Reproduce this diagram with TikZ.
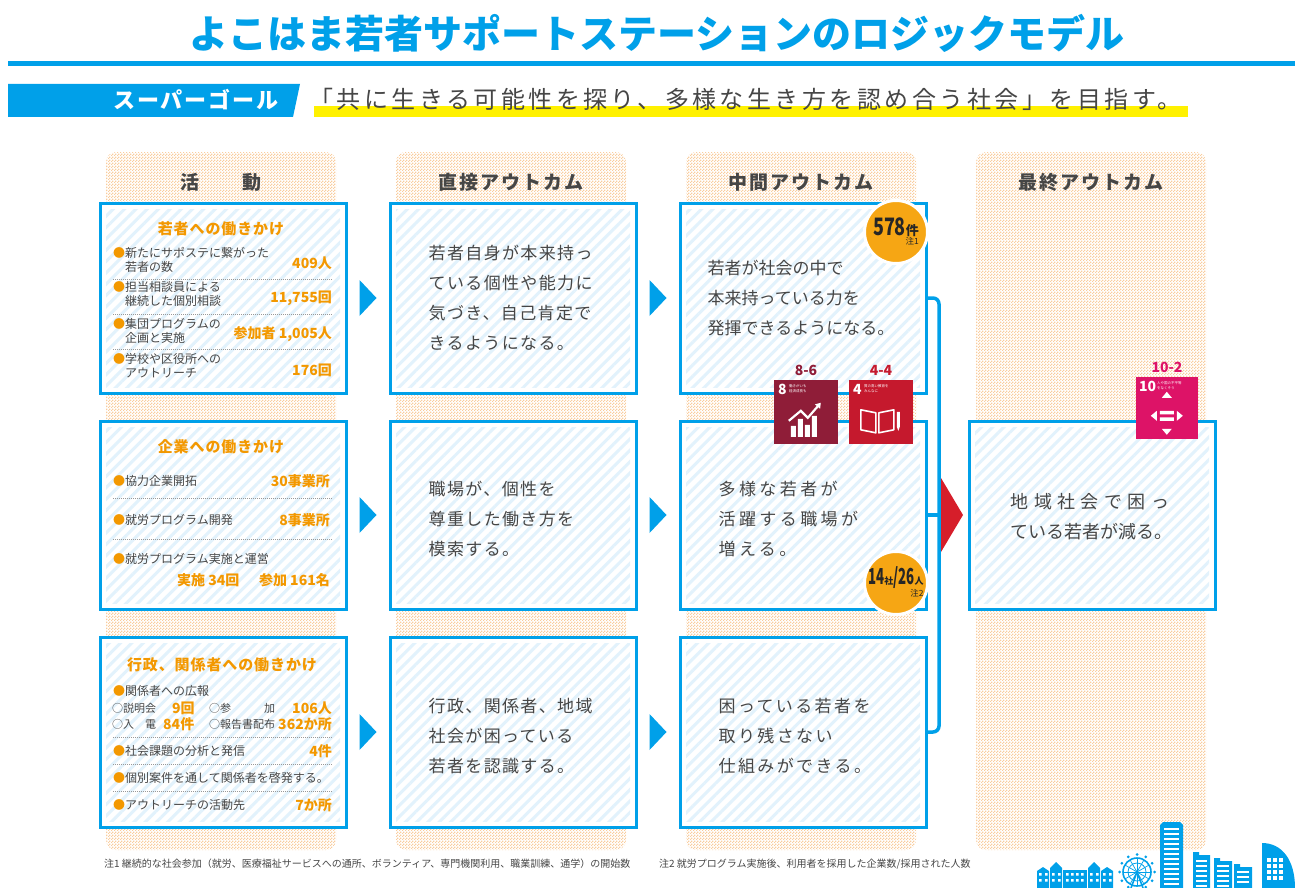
\documentclass[tikz,border=0pt]{standalone}
\usepackage{fontspec}
\setmainfont{Noto Sans CJK JP}
\usetikzlibrary{positioning, calc, arrows.meta, patterns.meta}

\definecolor{sapblue}{RGB}{0,160,233}
\definecolor{sporange}{RGB}{243,152,0}
\definecolor{badgeorange}{RGB}{246,166,20}
\definecolor{peach}{RGB}{249,205,158}
\definecolor{stripe}{RGB}{226,242,252}
\definecolor{inkgray}{RGB}{70,70,70}
\definecolor{hilite}{RGB}{255,241,0}
\definecolor{tipred}{RGB}{214,30,42}
\definecolor{sdgeight}{RGB}{143,29,56}
\definecolor{sdgfour}{RGB}{197,25,45}
\definecolor{sdgten}{RGB}{221,19,103}

\newcommand{\bul}{\textcolor{sporange}{●}}
\newcommand{\bulgap}{\phantom{●}}

% fine chequer for the column backgrounds
\tikzdeclarepattern{
  name=chequer,
  type=uncolored,
  bottom left={(0pt,0pt)},
  top right={(3pt,3pt)},
  tile size={(3pt,3pt)},
  code={
    \fill (0pt,0pt) rectangle (1.5pt,1.5pt);
    \fill (1.5pt,1.5pt) rectangle (3pt,3pt);
  }
}

\begin{document}
\begin{tikzpicture}[
    x=1pt, y=-1pt,
    column/.style={rectangle, rounded corners=10pt, pattern=chequer, pattern color=peach,
                   minimum width=230pt, minimum height=698pt, inner sep=0pt},
    colhead/.style={font=\fontsize{19}{19}\selectfont\bfseries\addfontfeature{LetterSpace=10}, text=inkgray},
    card/.style={rectangle, draw=sapblue, line width=3pt, fill=white, inner sep=0pt,
                 minimum width=246pt, minimum height=190pt,
                 path picture={\fill[pattern={Lines[angle=45, distance=8pt, line width=3pt]}, pattern color=stripe]
                   ([shift={(6pt,6pt)}]path picture bounding box.south west) rectangle
                   ([shift={(-6pt,-6pt)}]path picture bounding box.north east);}},
    cardhead/.style={font=\fontsize{15}{15}\selectfont\bfseries\addfontfeature{LetterSpace=6}, text=sporange},
    item/.style={anchor=west, align=left, inner sep=0pt, text=inkgray, font=\fontsize{12}{14}\selectfont},
    sub/.style={anchor=west, inner sep=0pt, text=inkgray, font=\fontsize{11}{11}\selectfont},
    count/.style={anchor=east, inner sep=0pt, text=sporange, font=\fontsize{14}{14}\selectfont\bfseries},
    say/.style={anchor=west, align=left, inner sep=0pt, text=inkgray,
                font=\fontsize{17}{30}\selectfont\addfontfeature{LetterSpace=#1}},
    say/.default=8,
    sep/.style={draw=gray!80, line width=0.7pt, dash pattern=on 0.7pt off 1.3pt},
    badge/.style={circle, fill=badgeorange, draw=white, line width=3pt, minimum size=63pt, inner sep=0pt},
    badgetext/.style={align=right, inner sep=0pt, text=black!85, font=\fontsize{8.5}{9}\selectfont},
    sdg/.style={rectangle, minimum width=64pt, minimum height=64pt, inner sep=0pt},
    sdgtag/.style={font=\fontsize{14}{14}\selectfont\bfseries, inner sep=0pt},
    sdgnum/.style={anchor=north west, inner sep=0pt, text=white, font=\fontsize{14}{14}\selectfont\bfseries},
    sdgcap/.style={anchor=north west, align=left, inner sep=0pt, text=white, font=\fontsize{3.5}{4.5}\selectfont},
    busline/.style={draw=sapblue, line width=3.5pt, rounded corners=6pt},
    note/.style={anchor=west, inner sep=0pt, text=inkgray, font=\fontsize{10}{10}\selectfont}
]
\useasboundingbox (0,0) rectangle (1295,888);

% heading and super goal
\node[font=\fontsize{39}{39}\selectfont\bfseries, text=sapblue, inner sep=0pt] (title) at (657,33)
  {よこはま若者サポートステーションのロジックモデル};
\draw[sapblue, line width=5pt] (8,64) -- (1295,64);

\fill[sapblue] (8,84) -- (300,84) -- (293,117) -- (8,117) -- cycle;
\node[font=\fontsize{22}{22}\selectfont\bfseries\addfontfeature{LetterSpace=9}, text=white, inner sep=0pt]
  (supergoal) at (196,100) {スーパーゴール};
\fill[hilite] (314,106) rectangle (1188,117);
\node[anchor=west, inner sep=0pt, text=inkgray, font=\fontsize{24}{24}\selectfont\addfontfeature{LetterSpace=14.5}]
  (motto) at (309,99) {「共に生きる可能性を探り、多様な生き方を認め合う社会」を目指す。};

% four columns
\foreach \x/\name/\head in {221/act/活　　動, 511/dir/直接アウトカム, 801/mid/中間アウトカム, 1091/fin/最終アウトカム} {
  \node[column] (col\name) at (\x,501) {};
  \node[colhead] (head\name) at (\x,182) {\head};
}

\foreach \x/\name in {223/act, 513/dir, 803/mid} {
  \node[card] (\name1) at (\x,298) {};
  \node[card, minimum height=188pt] (\name2) at (\x,515) {};
  \node[card] (\name3) at (\x,732) {};
}
\node[card, minimum height=188pt] (fin) at (1092,515) {};

% arrows between columns
\foreach \a/\b in {act1/dir1, act2/dir2, act3/dir3, dir1/mid1, dir2/mid2, dir3/mid3}
  \fill[sapblue] ($(\a.east)!0.5!(\b.west)$) +(-8.5pt,18pt) -- +(8.5pt,0pt) -- +(-8.5pt,-18pt) -- cycle;

% activities: youth
\node[cardhead] (headyouth) at (221,229) {若者への働きかけ};
\node[item] (youth1) at (113,260) {\bul 新たにサポステに繋がった\\\bulgap 若者の数};
\node[count] (youth1n) at (332,263) {409人};
\node[item] (youth2) at (113,294) {\bul 担当相談員による\\\bulgap 継続した個別相談};
\node[count] (youth2n) at (332,298) {11,755回};
\node[item] (youth3) at (113,331) {\bul 集団プログラムの\\\bulgap 企画と実施};
\node[count] (youth3n) at (332,334) {参加者 1,005人};
\node[item] (youth4) at (113,366) {\bul 学校や区役所への\\\bulgap アウトリーチ};
\node[count] (youth4n) at (332,370) {176回};

% activities: firms
\node[cardhead] (headfirm) at (221,447) {企業への働きかけ};
\node[item] (firm1) at (113,481) {\bul 協力企業開拓};
\node[count] (firm1n) at (330,481) {30事業所};
\node[item] (firm2) at (113,520) {\bul 就労プログラム開発};
\node[count] (firm2n) at (330,520) {8事業所};
\node[item] (firm3) at (113,559) {\bul 就労プログラム実施と運営};
\node[count, anchor=west] (firm3a) at (177,580) {実施 34回};
\node[count] (firm3b) at (330,580) {参加 161名};

% activities: public bodies
\node[cardhead] (headpub) at (222,665) {行政、関係者への働きかけ};
\node[item] (pub1) at (113,691) {\bul 関係者への広報};
\node[sub] (pub1a) at (112,708) {○説明会};
\node[count, anchor=west] (pub1an) at (172,708) {9回};
\node[sub] (pub1b) at (209,708) {○参　　　加};
\node[count] (pub1bn) at (332,708) {106人};
\node[sub] (pub1c) at (112,724) {○入　電};
\node[count, anchor=west] (pub1cn) at (163,724) {84件};
\node[sub] (pub1d) at (209,724) {○報告書配布};
\node[count] (pub1dn) at (332,724) {362か所};
\node[item] (pub2) at (113,751) {\bul 社会課題の分析と発信};
\node[count] (pub2n) at (332,751) {4件};
\node[item] (pub3) at (113,778) {\bul 個別案件を通して関係者を啓発する。};
\node[item] (pub4) at (113,805) {\bul アウトリーチの活動先};
\node[count] (pub4n) at (332,805) {7か所};

\foreach \y in {279,314,349,498,539,737,764,791}
  \draw[sep] (113,\y) -- (332,\y);

% outcomes
\node[say] (dir1t) at ([xshift=40pt]dir1.west) {若者自身が本来持っ\\ている個性や能力に\\気づき、自己肯定で\\きるようになる。};
\node[say] (dir2t) at ([xshift=40pt, yshift=-4pt]dir2.west) {職場が、個性を\\尊重した働き方を\\模索する。};
\node[say] (dir3t) at ([xshift=40pt, yshift=-4pt]dir3.west) {行政、関係者、地域\\社会が困っている\\若者を認識する。};

\node[say=0] (mid1t) at ([xshift=29pt]mid1.west) {若者が社会の中で\\本来持っている力を\\発揮できるようになる。};
\node[say=20] (mid2t) at ([xshift=40pt, yshift=-4pt]mid2.west) {多様な若者が\\活躍する職場が\\増える。};
\node[say=14] (mid3t) at ([xshift=40pt, yshift=-4pt]mid3.west) {困っている若者を\\取り残さない\\仕組みができる。};

\node[say=0, font=\fontsize{18}{30}\selectfont] (fint) at ([xshift=43pt, yshift=-2pt]fin.west)
  {{\addfontfeature{LetterSpace=30}地域社会で困っ}\\ている若者が減る。};

% joining the middle outcomes
\coordinate (bus) at (939,515);
\draw[busline] (mid1.east) -| (bus) |- (mid3.east);
\draw[busline] (mid2.east) -- (bus);
\fill[tipred] (bus) +(2pt,37pt) -- +(24pt,0pt) -- +(2pt,-37pt) -- cycle;

% counts in circles
\node[badge] (badge1) at (896,232) {};
\node[badgetext] (badge1t) at ([yshift=1pt]badge1)
  {{\fontsize{24}{24}\selectfont\bfseries\scalebox{0.75}[1]{578}}{\fontsize{13}{13}\selectfont\bfseries 件}\\注1};
\node[badge] (badge2) at (896,583) {};
\node[badgetext] (badge2t) at ([yshift=1pt]badge2)
  {{\fontsize{22}{22}\selectfont\bfseries\scalebox{0.6}[1]{14}}{\fontsize{9}{9}\selectfont\bfseries 社}%
   {\fontsize{22}{22}\selectfont\bfseries\scalebox{0.6}[1]{/26}}{\fontsize{9}{9}\selectfont\bfseries 人}\\注2};

% SDG targets
\node[sdg, fill=sdgeight] (sdg8) at (806,412) {};
\node[sdgtag, text=sdgeight, above=4pt of sdg8] (sdg8t) {8-6};
\node[sdgnum] (sdg8n) at ([shift={(4pt,-4pt)}]sdg8.north west) {8};
\node[sdgcap] (sdg8c) at ([shift={(15pt,-5pt)}]sdg8.north west) {働きがいも\\経済成長も};
\begin{scope}[shift={(sdg8.north west)}]
  \fill[white] (17,57) rectangle (22,46) (24,57) rectangle (29,39) (31,57) rectangle (36,45) (38,57) rectangle (43,36);
  \draw[white, line width=2.2pt, -{Triangle[length=5pt, width=6.5pt]}] (15,41) -- (27,31) -- (34,38) -- (47,23);
\end{scope}

\node[sdg, fill=sdgfour] (sdg4) at (881,412) {};
\node[sdgtag, text=sdgfour, above=4pt of sdg4] (sdg4t) {4-4};
\node[sdgnum] (sdg4n) at ([shift={(4pt,-4pt)}]sdg4.north west) {4};
\node[sdgcap] (sdg4c) at ([shift={(15pt,-5pt)}]sdg4.north west) {質の高い教育を\\みんなに};
\begin{scope}[shift={(sdg4.north west)}]
  \draw[white, line width=1.6pt, line join=round] (12,30) -- (27,33) -- (27,53) -- (12,50) -- cycle
    (30,33) -- (45,30) -- (45,50) -- (30,53) -- cycle;
  \fill[white] (48,32) rectangle (51,47) (48,47) -- (51,47) -- (49.5,51) -- cycle;
\end{scope}

\node[sdg, fill=sdgten, minimum width=62pt, minimum height=62pt] (sdg10) at (1167,408) {};
\node[sdgtag, text=sdgten, above=4pt of sdg10] (sdg10t) {10-2};
\node[sdgnum] (sdg10n) at ([shift={(3pt,-4pt)}]sdg10.north west) {10};
\node[sdgcap] (sdg10c) at ([shift={(21pt,-5pt)}]sdg10.north west) {人や国の不平等\\をなくそう};
\begin{scope}[shift={(sdg10.north west)}]
  \fill[white] (31,15) -- (26,21) -- (36,21) -- cycle
    (31,58) -- (26,52) -- (36,52) -- cycle
    (15,39) -- (21,34) -- (21,44) -- cycle
    (47,39) -- (41,34) -- (41,44) -- cycle
    (24,34) rectangle (38,37.5)
    (24,40.5) rectangle (38,44);
\end{scope}

% notes
\node[note] (note1) at (104,864) {注1 継続的な社会参加（就労、医療福祉サービスへの通所、ボランティア、専門機関利用、職業訓練、通学）の開始数};
\node[note] (note2) at (659,864) {注2 就労プログラム実施後、利用者を採用した企業数/採用された人数};

% skyline
\fill[sapblue] (1037,888) -- (1037,871) -- (1043,867) -- (1049,871) -- (1049,888) -- cycle;
\fill[sapblue] (1050,888) -- (1050,868) -- (1056,862) -- (1062,868) -- (1062,888) -- cycle;
\fill[sapblue] (1063,888) -- (1063,870) -- (1087,870) -- (1087,888) -- cycle;
\fill[sapblue] (1088,888) -- (1088,868) -- (1094,862) -- (1100,868) -- (1100,888) -- cycle;
\fill[sapblue] (1101,888) -- (1101,871) -- (1107,867) -- (1113,871) -- (1113,888) -- cycle;
\foreach \x in {1039,1045,1052,1058,1066,1071,1076,1081,1090,1096,1103,1109}
  \fill[white] (\x,873) rectangle (\x+2.5,875.5) (\x,879) rectangle (\x+2.5,881.5);

\draw[sapblue, line width=1.6pt] (1137,872) circle (14pt);
\draw[sapblue, line width=0.8pt] (1137,872) circle (9pt);
\foreach \a in {0,30,...,330} {
  \draw[sapblue, line width=0.7pt] (1137,872) -- +(\a:14pt);
  \fill[sapblue] (1137,872) +(\a:17.5pt) circle (1.5pt);
}
\draw[sapblue, line width=1.6pt] (1131,888) -- (1137,872) -- (1143,888);

\fill[sapblue] (1160,888) -- (1160,825) -- (1163,822) -- (1180,822) -- (1183,825) -- (1183,888) -- cycle;
\foreach \y in {828,833,...,883}
  \fill[white] (1164,\y) rectangle (1179,\y+1.6);

\fill[sapblue] (1193,888) -- (1193,852) -- (1199,852) -- (1199,855) -- (1210,855) -- (1210,888) -- cycle;
\fill[sapblue] (1214,888) -- (1214,858) -- (1220,858) -- (1220,861) -- (1232,861) -- (1232,888) -- cycle;
\fill[sapblue] (1234,888) -- (1234,864) -- (1240,864) -- (1240,867) -- (1252,867) -- (1252,888) -- cycle;
\foreach \y in {860,865,...,885} \fill[white] (1196,\y) rectangle (1207,\y+1.5);
\foreach \y in {865,870,...,885} \fill[white] (1217,\y) rectangle (1229,\y+1.5);
\foreach \y in {871,876,...,885} \fill[white] (1237,\y) rectangle (1249,\y+1.5);

\fill[sapblue] (1262,888) -- (1262,843) .. controls (1282,843) and (1295,860) .. (1295,888) -- cycle;
\foreach \i in {0,1,2}
  \foreach \j in {0,1,2,3}
    \fill[white] (1267+\i*6,858+\j*6) rectangle (1270.5+\i*6,861.5+\j*6);
\end{tikzpicture}
\end{document}
